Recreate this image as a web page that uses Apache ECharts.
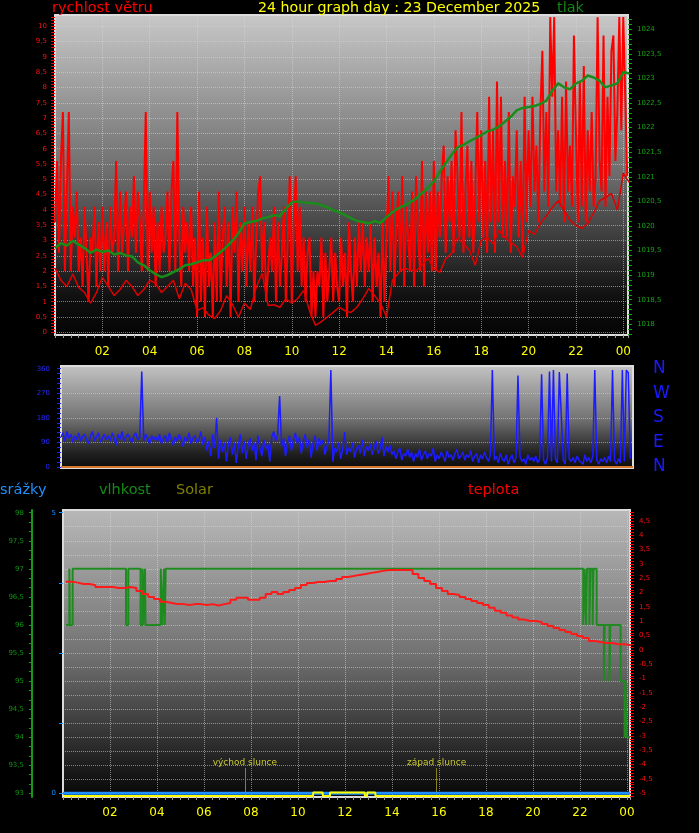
<!DOCTYPE html>
<html><head><meta charset="utf-8">
<script src="https://cdn.jsdelivr.net/npm/echarts@6.0.0/dist/echarts.min.js"></script>
<style>html,body{margin:0;padding:0;background:#000;}#c{width:699px;height:833px;}</style>
</head><body><div id="c"></div>
<script>
// ---------- DATA ----------
// wind gusts (m/s), one value every 5 minutes from 00:00
const windGust = [
 3.6,5.6,2.6,5.6,7.2,2.0,4.6,7.2,2.0,4.1,3.1,4.6,
 2.0,3.1,1.5,4.1,2.6,1.0,3.1,2.6,4.1,1.5,3.6,2.0,
 4.1,2.0,3.6,1.5,4.1,2.6,3.1,5.6,2.0,4.6,2.6,3.6,
 4.6,2.0,4.1,3.1,5.1,2.6,4.6,3.6,2.0,4.1,7.2,2.0,
 4.6,2.6,4.1,1.5,3.6,2.0,4.1,2.6,3.1,4.6,2.0,4.6,
 5.6,2.0,7.2,3.1,1.5,4.1,2.6,3.6,2.0,4.1,1.5,3.1,
 0.5,4.6,1.0,3.1,0.5,4.1,1.5,2.6,0.5,3.6,1.0,4.6,
 1.0,3.1,4.1,1.5,3.6,0.5,4.1,2.6,4.6,1.0,3.6,2.0,
 4.1,1.5,3.6,2.0,4.1,1.0,3.1,4.6,5.1,2.0,3.6,1.0,
 1.0,3.1,2.0,4.1,1.0,3.6,1.5,2.6,4.1,1.0,3.1,5.1,
 1.0,3.6,5.1,2.0,4.1,1.5,3.1,1.0,2.6,3.1,0.5,2.0,
 0.5,2.0,1.5,3.1,0.5,2.6,1.0,2.0,3.1,1.0,2.6,1.5,
 1.0,3.1,1.5,2.6,0.5,3.6,2.0,1.0,3.1,1.5,3.6,2.0,
 3.6,1.5,3.1,2.0,3.6,1.0,3.1,1.5,2.6,0.5,3.6,1.0,
 3.1,5.1,2.0,4.6,1.5,3.6,4.6,2.0,5.1,1.5,4.1,3.1,
 2.0,4.6,1.5,5.1,3.1,2.0,5.6,1.5,4.6,2.6,4.6,2.0,
 5.6,2.0,4.6,3.1,5.1,6.1,2.6,5.1,3.6,5.6,2.6,6.6,
 5.1,3.1,7.2,2.6,4.6,6.1,3.1,5.6,2.6,4.6,7.2,3.6,
 6.6,3.1,5.6,2.6,7.7,3.6,6.6,2.6,8.2,3.6,7.7,3.1,
 5.6,3.1,7.2,2.6,5.1,4.1,6.6,3.1,5.6,2.6,7.7,3.6,
 6.6,4.1,7.7,4.6,6.1,3.6,7.2,9.2,4.6,7.2,4.1,10.3,
 7.7,10.3,4.6,6.6,4.1,7.7,3.6,8.2,4.6,6.1,4.1,9.7,
 6.6,3.6,8.2,4.1,8.7,3.6,6.6,4.6,7.2,4.1,5.1,10.3,
 5.6,4.6,9.7,4.1,7.7,5.1,9.2,9.7,5.6,7.2,10.3,6.6,
 10.3,10.3,5.1
];
// average wind (m/s), one value every 15 minutes
const windAvg = [
 2.1,1.7,1.5,1.9, 1.47,1.3,0.95,1.3, 1.8,1.5,1.2,1.4, 1.7,1.5,1.2,1.4,
 1.7,1.6,1.3,1.5, 1.7,1.1,1.6,1.4, 0.72,0.8,0.56,0.45, 0.72,1.2,0.9,0.5,
 0.95,0.75,1.47,1.93, 0.88,0.9,0.82,1.1, 0.95,1.1,1.37,0.7, 0.23,0.35,0.5,0.65,
 0.82,0.7,0.65,0.82, 1.1,1.43,1.2,0.95, 0.5,1.7,1.93,2.1, 2.03,2.0,2.2,2.42,
 2.1,1.96,2.4,2.58, 3.1,2.9,2.68,2.19, 3.0,3.1,2.9,3.33, 3.1,2.94,2.8,2.45,
 3.33,3.2,3.56,3.8, 4.08,4.3,4.0,3.66, 3.5,3.4,3.56,3.9, 4.3,4.4,4.54,4.0,
 5.2,4.9
];
// pressure (hPa), one value every 15 minutes
const pressure = [
 1019.55,1019.65,1019.60,1019.70, 1019.62,1019.55,1019.45,1019.52, 1019.47,1019.50,1019.42,1019.45,
 1019.40,1019.38,1019.26,1019.20, 1019.10,1019.02,1018.96,1019.00, 1019.06,1019.12,1019.20,1019.22,
 1019.26,1019.30,1019.30,1019.38, 1019.47,1019.58,1019.70,1019.85, 1020.05,1020.08,1020.10,1020.15,
 1020.18,1020.22,1020.20,1020.35, 1020.48,1020.50,1020.48,1020.46, 1020.46,1020.42,1020.38,1020.32,
 1020.28,1020.22,1020.16,1020.10, 1020.08,1020.05,1020.10,1020.06, 1020.18,1020.28,1020.36,1020.42,
 1020.48,1020.56,1020.67,1020.78, 1020.90,1021.10,1021.28,1021.45, 1021.60,1021.65,1021.72,1021.78,
 1021.85,1021.92,1021.96,1022.02, 1022.12,1022.22,1022.35,1022.40, 1022.42,1022.44,1022.48,1022.55,
 1022.75,1022.90,1022.82,1022.78, 1022.90,1022.95,1023.06,1023.02, 1022.95,1022.82,1022.86,1022.90,
 1023.13,1023.10
];
// wind direction (degrees), one value every 5 minutes
const windDir = [
 110,125,95,130,105,120,90,115,100,125,95,110,
 120,100,85,115,130,95,110,125,90,105,120,100,
 115,95,125,105,80,120,100,130,95,110,120,105,
 90,115,125,100,110,350,95,120,105,85,115,100,
 110,95,120,85,105,115,90,125,100,80,110,95,
 120,100,75,110,95,125,85,105,115,90,100,130,
 80,110,60,95,40,120,70,180,30,100,55,90,
 20,85,110,45,90,15,75,120,50,95,30,80,
 105,60,90,25,115,70,40,100,65,85,20,110,
 130,95,120,260,75,105,40,90,115,60,100,125,
 85,110,50,95,120,70,100,35,90,115,60,105,
 80,100,45,75,95,355,20,70,55,90,30,65,
 128,45,70,55,90,35,65,80,50,100,40,75,
 60,85,45,70,95,50,65,110,40,75,55,80,
 45,60,30,55,70,25,50,40,65,35,55,20,
 50,35,65,25,45,60,30,50,40,70,20,45,
 30,55,40,20,60,35,45,25,50,65,30,40,
 55,25,45,35,60,20,40,50,15,45,30,55,
 35,20,45,355,25,40,15,50,30,20,45,10,
 30,45,15,35,335,40,20,30,10,45,25,35,
 20,40,15,30,340,25,10,35,350,20,355,30,
 15,348,350,25,10,342,30,20,35,15,40,25,
 30,10,45,20,35,15,40,355,25,10,30,20,
 35,15,40,20,355,25,10,30,15,355,20,355,
 345,30
];
const orangeHours = [0,13.3,13.36,13.42,15.1,15.14,15.2,15.65,15.69,15.75,24.2];
const orangeValues = [0,0,4,0,0,4,0,0,4,0,0];
// temperature (°C), every 15 minutes from 00:07
const temperature = [
 2.38,2.35,2.30,2.30, 2.27,2.20,2.20,2.20, 2.16,2.16,2.20,2.16, 2.06,1.95,1.85,1.78,
 1.68,1.64,1.60,1.60, 1.57,1.60,1.60,1.57, 1.60,1.55,1.60,1.64, 1.75,1.82,1.82,1.75,
 1.75,1.82,1.95,2.02, 1.95,2.02,2.09,2.16, 2.27,2.34,2.37,2.37, 2.41,2.41,2.48,2.55,
 2.58,2.62,2.65,2.69, 2.72,2.76,2.79,2.79, 2.79,2.79,2.79,2.65, 2.51,2.41,2.30,2.16,
 2.06,1.95,1.92,1.85, 1.78,1.71,1.64,1.57, 1.47,1.37,1.30,1.20, 1.13,1.06,1.01,1.01,
 0.98,0.91,0.84,0.77, 0.70,0.63,0.56,0.49, 0.42,0.31,0.28,0.24, 0.24,0.20,0.20,0.17,
 0.14
];
const humHours  = [0.12,0.27,0.29,0.41,2.68,2.78,3.3,3.39,3.41,3.49,3.51,4.16,4.22,4.3,4.33,4.37,
  22.14,22.2,22.26,22.3,22.4,22.45,22.54,22.58,22.71,23.02,23.05,23.26,23.29,23.73,23.9,23.93,23.99,24.13];
const humValues = [96,97,96,97,96,97,96,97,96,97,96,97,96,97,96,97,
  96,97,96,97,96,97,96,97,96,95,96,95,96,95,94,95,94,94];
const rainHours = [0,24.13];
const rainValues = [0,0];
const solarHours  = [0,10.64,10.65,11.05,11.06,11.36,11.37,12.84,12.85,12.94,12.95,13.29,13.3,24.13];
const solarValues = [0,0,3.5,3.5,0,0,3.5,3.5,0,0,3.5,3.5,0,0];
const sunNames = ['východ slunce','západ slunce'];
const sunHours = [7.74,15.9];
// tick labels
const hourTicks = [2,4,6,8,10,12,14,16,18,20,22,24];
const windTicks = [0,0.5,1,1.5,2,2.5,3,3.5,4,4.5,5,5.5,6,6.5,7,7.5,8,8.5,9,9.5,10];
const pressTicks = [1018,1018.5,1019,1019.5,1020,1020.5,1021,1021.5,1022,1022.5,1023,1023.5,1024];
const dirTicks = [0,90,180,270,360];
const compassNames = ['N','E','S','W','N'];
const tempTicks = [-5,-4.5,-4,-3.5,-3,-2.5,-2,-1.5,-1,-0.5,0,0.5,1,1.5,2,2.5,3,3.5,4,4.5];
const humTicks = [93,93.5,94,94.5,95,95.5,96,96.5,97,97.5,98];
const rainTicks = [0,5];

// ---------- helpers ----------
const FONT = 'DejaVu Sans';
const range = (a,b,s) => { const r=[]; for(let v=a; v<=b+1e-9; v+=s) r.push(Math.round(v*10000)/10000); return r; };
const byStep = (arr, step, start) => arr.map((v,i)=>[start + i*step, v]);
const zip = (xs, ys) => ys.map((v,i)=>[xs[i], v]);
const comma = v => String(Math.round(v*10)/10).replace('.', ',');
const grad = (stops) => ({type:'linear',x:0,y:0,x2:0,y2:1,colorStops:stops.map(s=>({offset:s[0],color:s[1]}))});
const gridLine = {show:true,lineStyle:{type:'dotted',color:'rgba(215,215,215,0.55)',width:1}};
const noLine = {show:false,onZero:false};
const hidden = {axisLine:noLine,axisTick:{show:false},axisLabel:{show:false}};
const hourFmt = v => { if (v === 24) return '00'; if (v>0 && v<24 && v%2===0) return (v<10?'0':'')+v; return ''; };

const chart = echarts.init(document.getElementById('c'), null, {renderer:'canvas'});
const option = {
  animation:false,
  backgroundColor:'#000',
  graphic:[
    {type:'text',x:52,y:8,style:{text:'rychlost větru',fill:'#ff0000',font:'14.5px "'+FONT+'"',verticalAlign:'middle'}},
    {type:'text',x:258,y:8,style:{text:'24 hour graph day : 23 December 2025',fill:'#ffff00',font:'14.2px "'+FONT+'"',verticalAlign:'middle'}},
    {type:'text',x:557,y:8,style:{text:'tlak',fill:'#118811',font:'14.5px "'+FONT+'"',verticalAlign:'middle'}},
    {type:'text',x:0,y:490,style:{text:'srážky',fill:'#1e90ff',font:'14.5px "'+FONT+'"',verticalAlign:'middle'}},
    {type:'text',x:99,y:490,style:{text:'vlhkost',fill:'#168a16',font:'14.5px "'+FONT+'"',verticalAlign:'middle'}},
    {type:'text',x:176,y:490,style:{text:'Solar',fill:'#808000',font:'14.5px "'+FONT+'"',verticalAlign:'middle'}},
    {type:'text',x:468,y:490,style:{text:'teplota',fill:'#ff0000',font:'14.5px "'+FONT+'"',verticalAlign:'middle'}}
  ],
  grid:[
    {left:55,top:15,width:573,height:320,show:true,borderColor:'#dcdcdc',borderWidth:2,
     backgroundColor:grad([[0,'#c8c8c8'],[0.5,'#6c6c6c'],[0.88,'#101010'],[1,'#040404']])},
    {left:61,top:366,width:572,height:102,show:true,borderColor:'#dcdcdc',borderWidth:2,
     backgroundColor:grad([[0,'#c4c4c4'],[0.5,'#767676'],[0.85,'#202020'],[1,'#0a0a0a']])},
    {left:63,top:510,width:567,height:287,show:true,borderColor:'#dcdcdc',borderWidth:2,
     backgroundColor:grad([[0,'#b8b8b8'],[0.5,'#727272'],[0.8,'#303030'],[1,'#050505']])}
  ],
  xAxis:[
    {gridIndex:0,type:'value',position:'bottom',min:0,max:24.2,interval:2,
     axisLine:noLine,
     axisTick:{show:true,length:3,lineStyle:{color:'#9a9a9a'}},
     minorTick:{show:true,splitNumber:6,length:3,lineStyle:{color:'#9a9a9a'}},
     axisLabel:{color:'#ffff00',fontFamily:FONT,fontSize:12,margin:11,formatter:hourFmt,hideOverlap:false},
     splitLine:gridLine},
    {gridIndex:1,type:'value',position:'bottom',min:0,max:24.2,interval:2,...hidden,splitLine:{show:false}},
    {gridIndex:2,type:'value',position:'bottom',min:0,max:24.13,interval:2,
     axisLine:noLine,
     axisTick:{show:true,length:3,lineStyle:{color:'#9a9a9a'}},
     minorTick:{show:true,splitNumber:6,length:3,lineStyle:{color:'#9a9a9a'}},
     axisLabel:{color:'#ffff00',fontFamily:FONT,fontSize:12,margin:10,formatter:hourFmt,hideOverlap:false},
     splitLine:gridLine}
  ],
  yAxis:[
    // 0 wind
    {gridIndex:0,type:'value',position:'left',min:-0.088,max:10.37,axisLine:noLine,
     axisTick:{show:true,length:4,customValues:range(0,10.3,0.1),lineStyle:{color:'#ff0000'}},
     axisLabel:{customValues:windTicks,formatter:comma,color:'#ff1010',fontFamily:FONT,fontSize:7,margin:8},
     splitLine:{show:false}},
    // 1 pressure
    {gridIndex:0,type:'value',position:'right',min:1017.782,max:1024.291,axisLine:noLine,
     axisTick:{show:true,length:4,customValues:range(1017.8,1024.2,0.1),lineStyle:{color:'#18a018'}},
     axisLabel:{customValues:pressTicks,formatter:comma,color:'#18a018',fontFamily:FONT,fontSize:7,margin:9},
     splitLine:{show:false}},
    // 2 wind grid lines
    {gridIndex:0,type:'value',position:'left',min:-0.088,max:10.37,...hidden,
     axisTick:{show:false,customValues:windTicks},splitLine:gridLine},
    // 3 direction
    {gridIndex:1,type:'value',position:'left',min:-3.66,max:369.9,axisLine:noLine,
     axisTick:{show:true,length:4,customValues:range(0,360,18),lineStyle:{color:'#2222ff'}},
     axisLabel:{customValues:dirTicks,color:'#2828ff',fontFamily:FONT,fontSize:7,margin:11},
     splitLine:{show:false}},
    // 4 compass
    {gridIndex:1,type:'value',position:'right',min:-3.66,max:369.9,axisLine:noLine,
     axisTick:{show:false,customValues:dirTicks},
     axisLabel:{customValues:dirTicks,formatter:v=>compassNames[dirTicks.indexOf(v)],color:'#1a1aff',fontFamily:FONT,fontSize:17,margin:20},
     splitLine:{show:false}},
    // 5 direction grid lines
    {gridIndex:1,type:'value',position:'left',min:-3.66,max:369.9,...hidden,
     axisTick:{show:false,customValues:[90,180,270]},splitLine:gridLine},
    // 6 temperature
    {gridIndex:2,type:'value',position:'right',min:-5.13,max:4.884,axisLine:noLine,
     axisTick:{show:true,length:4,customValues:range(-5.1,4.8,0.1),lineStyle:{color:'#ff0000'}},
     axisLabel:{customValues:tempTicks,formatter:comma,color:'#ff1010',fontFamily:FONT,fontSize:7,margin:9},
     splitLine:{show:false}},
    // 7 humidity
    {gridIndex:2,type:'value',position:'left',offset:31,min:92.934,max:98.048,
     axisLine:{show:true,onZero:false,lineStyle:{color:'#16961a',width:2}},
     axisTick:{show:true,length:3,customValues:range(93,98,1/6),lineStyle:{color:'#16961a'}},
     axisLabel:{customValues:humTicks,formatter:comma,color:'#119011',fontFamily:FONT,fontSize:7,margin:8},
     splitLine:{show:false}},
    // 8 rain
    {gridIndex:2,type:'value',position:'left',min:-0.066,max:5.048,axisLine:noLine,
     axisTick:{show:true,length:4,customValues:[0,1.25,2.5,3.75,5],lineStyle:{color:'#1e90ff'}},
     axisLabel:{customValues:rainTicks,color:'#1e90ff',fontFamily:FONT,fontSize:7,margin:7},
     splitLine:{show:false}},
    // 9 panel 3 grid lines
    {gridIndex:2,type:'value',position:'left',min:92.934,max:98.048,...hidden,
     axisTick:{show:false,customValues:range(93.25,97.75,0.25)},splitLine:gridLine},
    // 10 solar (hidden)
    {gridIndex:2,type:'value',position:'right',min:-1,max:286,show:false,axisLine:noLine}
  ],
  series:[
    {type:'line',xAxisIndex:0,yAxisIndex:0,data:byStep(windGust,1/12,0),symbol:'none',z:2,
     lineStyle:{color:'#ff0000',width:2},silent:true},
    {type:'line',xAxisIndex:0,yAxisIndex:0,data:byStep(windAvg,0.25,0),symbol:'none',z:3,
     lineStyle:{color:'#e00000',width:1.5},silent:true},
    {type:'line',xAxisIndex:0,yAxisIndex:1,data:byStep(pressure,0.25,0),symbol:'none',z:4,
     lineStyle:{color:'#1a8c1a',width:2.5},silent:true},
    {type:'line',xAxisIndex:1,yAxisIndex:3,data:byStep(windDir,1/12,0),symbol:'none',z:3,
     lineStyle:{color:'#1c1cff',width:1.5},silent:true},
    {type:'line',xAxisIndex:1,yAxisIndex:3,data:zip(orangeHours,orangeValues),symbol:'none',z:4,
     lineStyle:{color:'#d8782a',width:2},silent:true},
    {type:'line',xAxisIndex:2,yAxisIndex:6,data:byStep(temperature,0.25,0.125),symbol:'none',step:'end',z:4,
     lineStyle:{color:'#ff1a1a',width:2},silent:true},
    {type:'line',xAxisIndex:2,yAxisIndex:7,data:zip(humHours,humValues),symbol:'none',step:'end',z:3,
     lineStyle:{color:'#1f8a1f',width:2},silent:true},
    {type:'line',xAxisIndex:2,yAxisIndex:8,data:zip(rainHours,rainValues),symbol:'none',z:5,
     lineStyle:{color:'#1e90ff',width:3},silent:true},
    {type:'line',xAxisIndex:2,yAxisIndex:10,data:zip(solarHours,solarValues),symbol:'none',z:6,
     lineStyle:{color:'#ffff00',width:2},silent:true,
     markLine:{silent:true,symbol:['none','none'],animation:false,
       lineStyle:{color:'#8a8020',width:1,type:'solid'},
       label:{show:true,position:'end',distance:1,formatter:p=>p.name,color:'#c8c832',fontFamily:FONT,fontSize:9},
       data:sunHours.map((h,i)=>[{name:sunNames[i],coord:[h,0]},{name:sunNames[i],coord:[h,28]}])}}
  ]
};
chart.setOption(option);
</script></body></html>
